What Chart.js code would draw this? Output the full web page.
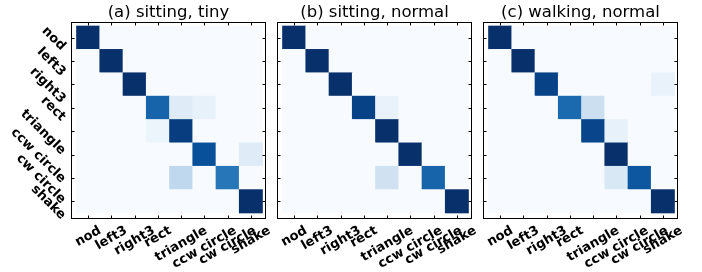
<!DOCTYPE html>
<html>
<head>
<meta charset="utf-8">
<script src="https://cdn.jsdelivr.net/npm/chart.js@4"></script>
<style>
  html, body { margin: 0; padding: 0; background: #fff; }
  #wrap { position: relative; width: 702px; height: 272px; overflow: hidden; }
  canvas { position: absolute; top: 0; }
</style>
</head>
<body>
<div id="wrap">
  <canvas id="cmA" width="272" height="272" style="left:0px"></canvas>
  <canvas id="cmB" width="206" height="272" style="left:272px"></canvas>
  <canvas id="cmC" width="224" height="272" style="left:478px"></canvas>
</div>
<script>
/* ---------- data ---------- */
const GESTURES = ['nod', 'left3', 'right3', 'rect', 'triangle', 'ccw circle', 'cw circle', 'shake'];
const TITLES   = ['(a) sitting, tiny', '(b) sitting, normal', '(c) walking, normal'];

// rows = true gesture, cols = predicted
const sittingTiny = [
  [1, 0, 0, 0,    0,    0,    0,    0   ],
  [0, 1, 0, 0,    0,    0,    0,    0   ],
  [0, 0, 1, 0,    0,    0,    0,    0   ],
  [0, 0, 0, 0.80, 0.12, 0.08, 0,    0   ],
  [0, 0, 0, 0.05, 0.95, 0,    0,    0   ],
  [0, 0, 0, 0,    0,    0.88, 0,    0.12],
  [0, 0, 0, 0,    0.27, 0,    0.73, 0   ],
  [0, 0, 0, 0,    0,    0,    0,    1   ]
];
const sittingNormal = [
  [1, 0, 0, 0,    0,    0, 0,    0],
  [0, 1, 0, 0,    0,    0, 0,    0],
  [0, 0, 1, 0,    0,    0, 0,    0],
  [0, 0, 0, 0.93, 0.07, 0, 0,    0],
  [0, 0, 0, 0,    1,    0, 0,    0],
  [0, 0, 0, 0,    0,    1, 0,    0],
  [0, 0, 0, 0,    0.20, 0, 0.80, 0],
  [0, 0, 0, 0,    0,    0, 0,    1]
];
const walkingNormal = [
  [1, 0, 0,    0,    0,    0,    0,    0   ],
  [0, 1, 0,    0,    0,    0,    0,    0   ],
  [0, 0, 0.93, 0,    0,    0,    0,    0.07],
  [0, 0, 0,    0.78, 0.22, 0,    0,    0   ],
  [0, 0, 0,    0,    0.92, 0.08, 0,    0   ],
  [0, 0, 0,    0,    0,    1,    0,    0   ],
  [0, 0, 0,    0,    0,    0.15, 0.85, 0   ],
  [0, 0, 0,    0,    0,    0,    0,    1   ]
];

/* ---------- Blues colour map ---------- */
const BLUES = ['#f7fbff', '#deebf7', '#c6dbef', '#9ecae1', '#6baed6',
               '#4292c6', '#2171b5', '#08519c', '#08306b'];
const hex2rgb = h => [1, 3, 5].map(i => parseInt(h.substr(i, 2), 16));
const blues = v => {
  v = Math.max(0, Math.min(1, v));
  const p = v * (BLUES.length - 1), i = Math.min(Math.floor(p), BLUES.length - 2), f = p - i;
  const a = hex2rgb(BLUES[i]), b = hex2rgb(BLUES[i + 1]);
  return `rgb(${a.map((c, k) => Math.round(c + (b[k] - c) * f)).join(',')})`;
};

/* ---------- matrix -> floating bars ---------- */
const toCells = m => {
  const out = [];
  m.forEach((row, r) => row.forEach((v, c) => out.push({ x: c, y: [r - 0.5, r + 0.5], v })));
  return out;
};

const FONT = '"DejaVu Sans", sans-serif';

/* ---------- frame / ticks / labels plugin ---------- */
const framePlugin = {
  id: 'frame',
  beforeDatasetsDraw (chart) {
    const { ctx, scales: { x, y } } = chart;
    ctx.save();
    ctx.fillStyle = BLUES[0];
    const l = x.getPixelForValue(-0.5), r = x.getPixelForValue(7.5);
    const t = y.getPixelForValue(-0.5), b = y.getPixelForValue(7.5);
    ctx.fillRect(l, t, r - l, b - t);
    ctx.restore();
  },
  afterDraw (chart, args, opts) {
    const { ctx, chartArea: a, scales: { x, y } } = chart;
    ctx.save();
    // spines
    ctx.strokeStyle = '#000';
    ctx.lineWidth = 1;
    ctx.strokeRect(a.left + 0.5, a.top + 0.5, a.right - a.left - 1, a.bottom - a.top - 1);
    // inward ticks
    const TL = 3.5;
    ctx.beginPath();
    GESTURES.forEach((_, i) => {
      const px = Math.round(x.getPixelForValue(i)) + 0.5;
      const py = Math.round(y.getPixelForValue(i)) + 0.5;
      ctx.moveTo(px, a.bottom); ctx.lineTo(px, a.bottom - TL);
      ctx.moveTo(px, a.top);    ctx.lineTo(px, a.top + TL);
      ctx.moveTo(a.left, py);   ctx.lineTo(a.left + TL, py);
      ctx.moveTo(a.right, py);  ctx.lineTo(a.right - TL, py);
    });
    ctx.stroke();

    // x tick labels, rotated 30deg, centred on tick
    const fs = 13, h = fs * 1.0;
    ctx.fillStyle = '#000';
    ctx.font = `bold ${fs}px ${FONT}`;
    ctx.textAlign = 'center';
    ctx.textBaseline = 'middle';
    const rx = Math.PI / 6;
    GESTURES.forEach((lab, i) => {
      const L = ctx.measureText(lab).width;
      const H = L * Math.sin(rx) + h * Math.cos(rx);
      ctx.save();
      ctx.translate(x.getPixelForValue(i), a.bottom + 5 + H / 2);
      ctx.rotate(-rx);
      ctx.fillText(lab, 0, 0);
      ctx.restore();
    });

    // y tick labels, rotated 45deg clockwise, right aligned
    if (opts.yLabels) {
      const ry = Math.PI / 4;
      GESTURES.forEach((lab, i) => {
        const L = ctx.measureText(lab).width;
        const W = L * Math.cos(ry) + h * Math.sin(ry);
        ctx.save();
        ctx.translate(a.left - 3 - W / 2, y.getPixelForValue(i) + 1);
        ctx.rotate(ry);
        ctx.fillText(lab, 0, 0);
        ctx.restore();
      });
    }

    // title
    ctx.font = `16.5px ${FONT}`;
    ctx.textBaseline = 'alphabetic';
    ctx.fillText(opts.title, (a.left + a.right) / 2, a.top - 5);
    ctx.restore();
  }
};

/* ---------- build one panel ---------- */
const makePanel = (cid, matrix, title, pad, yLabels) => new Chart(document.getElementById(cid), {
  type: 'bar',
  data: {
    datasets: [{
      data: toCells(matrix),
      backgroundColor: c => blues(c.raw ? c.raw.v : 0),
      borderWidth: 0,
      categoryPercentage: 1,
      barPercentage: 1
    }]
  },
  options: {
    responsive: false,
    animation: false,
    events: [],
    layout: { padding: pad },
    plugins: {
      legend: { display: false },
      tooltip: { enabled: false },
      frame: { title, yLabels }
    },
    scales: {
      x: { type: 'linear', display: false, offset: false, min: -0.737, max: 7.651 },
      y: { type: 'linear', display: false, reverse: true, min: -0.671, max: 7.757 }
    }
  },
  plugins: [framePlugin]
});

makePanel('cmA', sittingTiny,   TITLES[0], { left: 71, right: 6,  top: 22, bottom: 53 }, true);
makePanel('cmB', sittingNormal, TITLES[1], { left: 5,  right: 6,  top: 22, bottom: 53 }, false);
makePanel('cmC', walkingNormal, TITLES[2], { left: 5,  right: 24, top: 22, bottom: 53 }, false);
</script>
</body>
</html>
